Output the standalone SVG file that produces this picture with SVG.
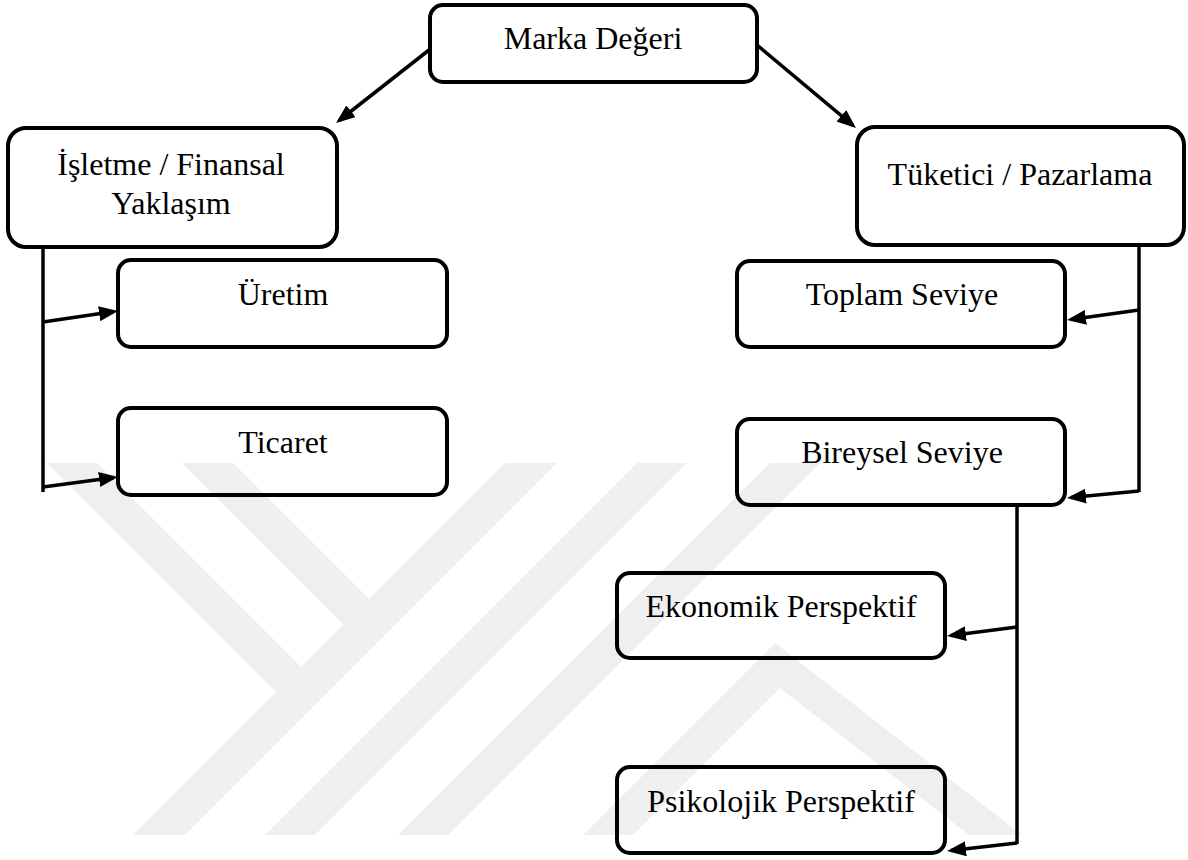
<svg xmlns="http://www.w3.org/2000/svg" width="1188" height="860" viewBox="0 0 1188 860">
  <style>
    .box { fill: none; stroke: #000; stroke-width: 4; }
    .lbl { font-family: "Liberation Serif", "Times New Roman", serif; font-size: 32px; fill: #000; text-anchor: middle; }
    .wire { fill: none; stroke: #000; stroke-width: 3.5; }
    .arrow { fill: none; stroke: #000; stroke-width: 3.5; marker-end: url(#head); }
    .mark { fill: #efefef; }
  </style>
  <defs>
    <marker id="head" viewBox="0 0 19 15" refX="15" refY="7.5" markerWidth="19" markerHeight="15" markerUnits="userSpaceOnUse" orient="auto">
      <path d="M0,0 L19,7.5 L0,15 Z" fill="#000"/>
    </marker>
  </defs>

  <rect width="1188" height="860" fill="#fff"/>

  <!-- faint background emblem made of diagonal bands -->
  <g id="emblem">
    <polygon class="mark" points="133,835 185,835 557,463 505,463"/>
    <polygon class="mark" points="47,463 97,463 301,667 276,692"/>
    <polygon class="mark" points="182,463 233,463 369,599 343.5,624.5"/>
    <polygon class="mark" points="265,835 315,835 687,463 637,463"/>
    <polygon class="mark" points="398,835 448,835 820,463 770,463"/>
    <polygon class="mark" points="583,835 775,643 1022,835 969,835 780,688 633,835"/>
  </g>

  <!-- connectors -->
  <g id="connectors">
    <line class="arrow" x1="429" y1="50" x2="339.2" y2="120.5"/>
    <line class="arrow" x1="757" y1="45" x2="852.9" y2="125.4"/>

    <line class="wire" x1="43" y1="247" x2="43" y2="492"/>
    <line class="arrow" x1="43" y1="322" x2="114" y2="311.6"/>
    <line class="arrow" x1="43" y1="487" x2="114" y2="477.5"/>

    <line class="wire" x1="1139" y1="245" x2="1139" y2="492"/>
    <line class="arrow" x1="1139" y1="310" x2="1071" y2="319.4"/>
    <line class="arrow" x1="1139" y1="491" x2="1071" y2="497.6"/>

    <line class="wire" x1="1017" y1="505" x2="1017" y2="844"/>
    <line class="arrow" x1="1017" y1="627" x2="951" y2="635.5"/>
    <line class="arrow" x1="1017" y1="843" x2="951" y2="850.5"/>
  </g>

  <g id="marka-degeri">
    <rect class="box" x="430" y="5" width="327" height="77" rx="13"/>
    <text class="lbl" x="593" y="49">Marka Değeri</text>
  </g>

  <g id="isletme-finansal">
    <rect class="box" x="8" y="128" width="329" height="119" rx="18"/>
    <text class="lbl" x="171" y="175">İşletme / Finansal</text>
    <text class="lbl" x="171" y="214">Yaklaşım</text>
  </g>

  <g id="tuketici-pazarlama">
    <rect class="box" x="857" y="127" width="327" height="118" rx="18"/>
    <text class="lbl" x="1020" y="185">Tüketici / Pazarlama</text>
  </g>

  <g id="uretim">
    <rect class="box" x="118" y="260" width="329" height="87" rx="13"/>
    <text class="lbl" x="283" y="305">Üretim</text>
  </g>

  <g id="ticaret">
    <rect class="box" x="118" y="408" width="329" height="87" rx="13"/>
    <text class="lbl" x="283" y="453">Ticaret</text>
  </g>

  <g id="toplam-seviye">
    <rect class="box" x="737" y="261" width="328" height="86" rx="13"/>
    <text class="lbl" x="902" y="305">Toplam Seviye</text>
  </g>

  <g id="bireysel-seviye">
    <rect class="box" x="737" y="419" width="328" height="86" rx="13"/>
    <text class="lbl" x="902" y="463">Bireysel Seviye</text>
  </g>

  <g id="ekonomik-perspektif">
    <rect class="box" x="617" y="573" width="328" height="85" rx="13"/>
    <text class="lbl" x="781" y="617">Ekonomik Perspektif</text>
  </g>

  <g id="psikolojik-perspektif">
    <rect class="box" x="617" y="767" width="328" height="86" rx="13"/>
    <text class="lbl" x="781" y="812">Psikolojik Perspektif</text>
  </g>
</svg>
